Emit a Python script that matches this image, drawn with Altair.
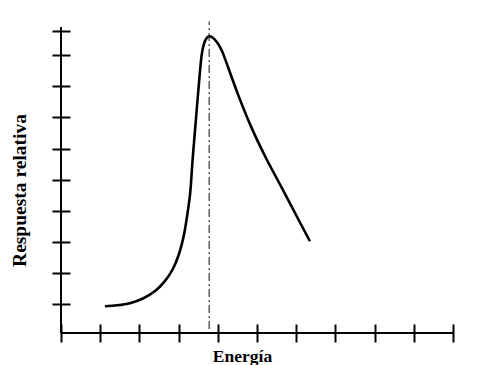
import altair as alt
import pandas as pd

# Curve (Energía, Respuesta relativa)
ENERGIA = [1.12, 1.43, 1.76, 2.09, 2.40, 2.65, 2.85, 3.01, 3.14, 3.22, 3.29, 3.36,
           3.44, 3.53, 3.60, 3.68, 3.77, 3.86, 3.98, 4.10, 4.18, 4.51, 4.84, 5.20,
           5.61, 6.04, 6.35]
RESPUESTA = [0.93, 0.96, 1.03, 1.18, 1.42, 1.74, 2.12, 2.61, 3.25, 3.86, 4.50, 5.69,
             6.91, 8.26, 9.10, 9.48, 9.61, 9.58, 9.42, 9.16, 8.90, 7.76, 6.73, 5.77,
             4.79, 3.76, 3.02]

# Vertical dash-dot reference line at the peak energy
PICO_X = [3.78]
PICO_Y = [0.2]
PICO_Y2 = [10.09]

# Axis ticks and domains
X_TICKS = [0, 1, 2, 3, 4, 5, 6, 7, 8, 9, 10]
Y_TICKS = [1, 2, 3, 4, 5, 6, 7, 8, 9, 9.78]
X_DOMAIN = [0, 10]
Y_DOMAIN = [0.07, 9.91]

curve = pd.DataFrame({"x": ENERGIA, "y": RESPUESTA})
peak = pd.DataFrame({"x": PICO_X, "y": PICO_Y, "y2": PICO_Y2})
yline = pd.DataFrame({"x": [X_DOMAIN[0]], "y": [Y_DOMAIN[0]], "y2": [Y_DOMAIN[1]]})
xline = pd.DataFrame({"x": [X_DOMAIN[0]], "x2": [X_DOMAIN[1]], "y": [Y_DOMAIN[0]]})

xscale = alt.Scale(domain=X_DOMAIN, nice=False, zero=False)
yscale = alt.Scale(domain=Y_DOMAIN, nice=False, zero=False)

FONT = "Liberation Serif"

xaxis = alt.Axis(values=X_TICKS, labels=False, domain=False, grid=False,
                 ticks=True, tickSize=18, tickWidth=2, tickColor="black",
                 labelOverlap=False, tickCount=11,
                 offset=-9, title="Energía", titleFont=FONT, titleFontSize=17.5,
                 titleFontWeight="bold", titleColor="black", titleX=181, titleY=37,
                 titleAlign="center", titleBaseline="alphabetic")
yaxis = alt.Axis(values=Y_TICKS, labels=False, domain=False, grid=False,
                 ticks=True, tickSize=18, tickWidth=2, tickColor="black",
                 labelOverlap=False, tickCount=10,
                 offset=-9, title="Respuesta relativa", titleFont=FONT, titleFontSize=19.5,
                 titleFontWeight="bold", titleColor="black", titleX=-44.5, titleY=163,
                 titleAngle=270, titleAlign="center", titleBaseline="alphabetic")

X_ENC = alt.X("x:Q", scale=xscale, axis=xaxis)
Y_ENC = alt.Y("y:Q", scale=yscale, axis=yaxis)

line = alt.Chart(curve).mark_line(
    color="black", strokeWidth=2.6, interpolate="catmull-rom"
).encode(x=X_ENC, y=Y_ENC)

peak_rule = alt.Chart(peak).mark_rule(
    color="#222222", strokeWidth=1.1, strokeDash=[8, 3, 2, 3]
).encode(x=X_ENC, y=Y_ENC, y2="y2:Q")

y_domain_line = alt.Chart(yline).mark_rule(color="black", strokeWidth=2).encode(
    x=X_ENC, y=Y_ENC, y2="y2:Q"
)

x_domain_line = alt.Chart(xline).mark_rule(color="black", strokeWidth=2).encode(
    x=X_ENC, x2="x2:Q", y=Y_ENC
)

chart = alt.layer(line, peak_rule, y_domain_line, x_domain_line).properties(
    width=392,
    height=306,
    padding={"left": 61, "top": 27, "right": 42, "bottom": 32},
    autosize=alt.AutoSizeParams(type="none"),
    background="white",
).configure_view(stroke=None)

chart.save("out.html", embed_options={"renderer": "svg", "actions": False})
